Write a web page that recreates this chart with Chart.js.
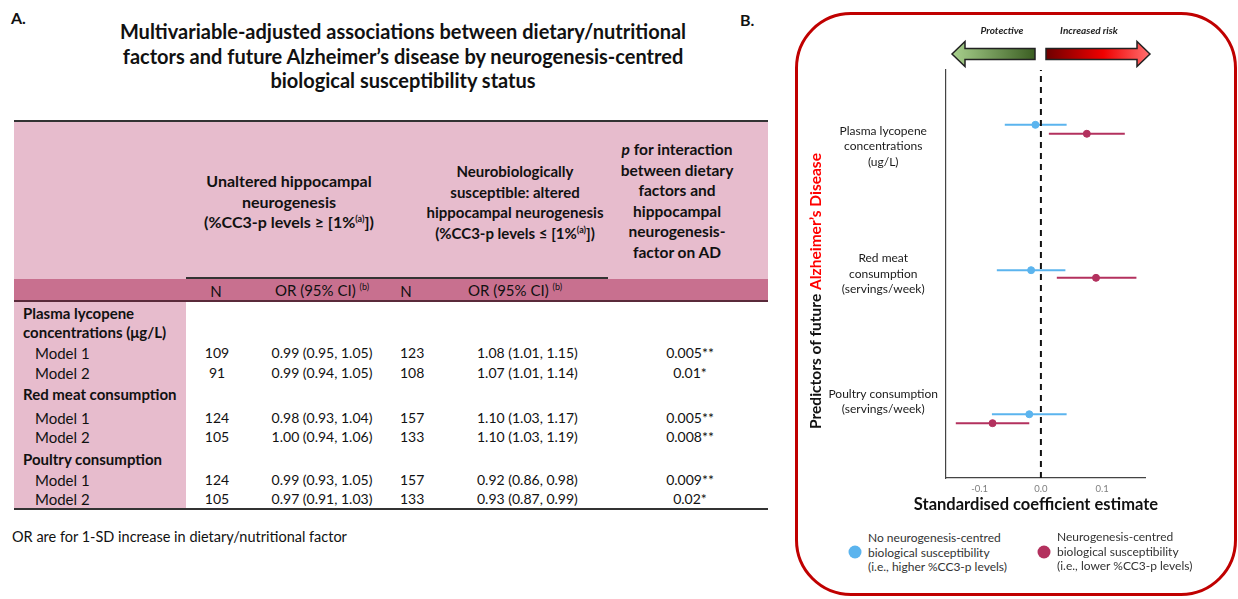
<!DOCTYPE html>
<html>
<head>
<meta charset="utf-8">
<script src="https://cdn.jsdelivr.net/npm/chart.js@4.4.1/dist/chart.umd.min.js"></script>
<style>
  html, body { margin: 0; padding: 0; background: #fff; }
  body { width: 1238px; height: 599px; position: relative; overflow: hidden; font-family: Lato, "Open Sans", sans-serif; color: #111; }
  .t { position: absolute; white-space: nowrap; line-height: 1; transform: translateY(-50%); }
  .c { transform: translate(-50%, -50%); text-align: center; }
  .b { font-weight: 700; }
  .box { position: absolute; }
  #panelB { position: absolute; left: 795px; top: 12px; width: 436px; height: 578px; border: 3px solid #c00000; border-radius: 56px; }
  #chartWrap { position: absolute; left: 800px; top: 20px; width: 432px; height: 510px; }
  .dot { position: absolute; width: 13px; height: 13px; border-radius: 50%; transform: translate(-50%, -50%); }
</style>
</head>
<body>
<div id="panelB"></div>
<div id="chartWrap"><canvas id="forest"></canvas></div>
<script>
// ---- panel B data ----
const yTickLabels = {
    1: ['Poultry consumption', '(servings/week)'],
    2: ['Red meat', 'consumption', '(servings/week)'],
    3: ['Plasma lycopene', 'concentrations', '(ug/L)']
};
const xTicks = [-0.1, 0, 0.1];
const noSuscY   = [0.90, 2.03, 3.17];
const noSuscEst = [-0.019, -0.016, -0.009];
const noSuscLo  = [-0.080, -0.072, -0.059];
const noSuscHi  = [0.042, 0.040, 0.042];
const suscY     = [0.83, 1.97, 3.10];
const suscEst   = [-0.079, 0.090, 0.075];
const suscLo    = [-0.139, 0.026, 0.013];
const suscHi    = [-0.019, 0.156, 0.137];

// ---- panel A data (table) ----
const factorLabels = [['Plasma lycopene', 'concentrations (\u03bcg/L)'], ['Red meat consumption'], ['Poultry consumption']];
const modelLabels = ['Model 1', 'Model 2', 'Model 1', 'Model 2', 'Model 1', 'Model 2'];
const nUnaltered = [109, 91, 124, 105, 124, 105];
const orUnaltered = ['0.99 (0.95, 1.05)', '0.99 (0.94, 1.05)', '0.98 (0.93, 1.04)', '1.00 (0.94, 1.06)', '0.99 (0.93, 1.05)', '0.97 (0.91, 1.03)'];
const nAltered = [123, 108, 157, 133, 157, 133];
const orAltered = ['1.08 (1.01, 1.15)', '1.07 (1.01, 1.14)', '1.10 (1.03, 1.17)', '1.10 (1.03, 1.19)', '0.92 (0.86, 0.98)', '0.93 (0.87, 0.99)'];
const pInteraction = ['0.005**', '0.01*', '0.005**', '0.008**', '0.009**', '0.02*'];

const BLUE = '#5bb4ee';
const RED = '#b3315e';

function box(x, y, w, h, bg) {
    const d = document.createElement('div');
    d.className = 'box';
    d.style.cssText = `left:${x}px;top:${y}px;width:${w}px;height:${h}px;background:${bg}`;
    document.body.appendChild(d);
}
function put(html, x, y, cls, style) {
    const d = document.createElement('div');
    d.className = 't ' + (cls || '');
    d.style.left = x + 'px';
    d.style.top = y + 'px';
    if (style) d.style.cssText += style;
    d.innerHTML = html;
    document.body.appendChild(d);
    return d;
}

// panel labels + title
put('A.', 11, 18, 'b', 'font-size:16px');
put('B.', 740, 20, 'b', 'font-size:16px');
const titleLines = ['Multivariable-adjusted associations between dietary/nutritional', 'factors and future Alzheimer\u2019s disease by neurogenesis-centred', 'biological susceptibility status'];
titleLines.forEach((l, i) => put(l, 403, 31 + i * 24.5, 'c b', 'font-size:20px'));

// table backgrounds and rules
box(14, 122, 754, 157, '#e7bccd');
box(14, 279, 754, 22, '#c8708f');
box(14, 302, 172, 207, '#e7bccd');
box(14, 120, 754, 2, '#333');
box(186, 277, 422, 1.5, '#333');
box(14, 300, 754, 2, '#5a2a3a');
box(14, 508, 754, 2, '#333');

// header text
const hSize = 'font-size:15.5px';
['Unaltered hippocampal', 'neurogenesis', '(%CC3-p levels \u2265 [1%<sup style="font-size:9px">(a)</sup>])']
    .forEach((l, i) => put(l, 289, 181 + i * 20.5, 'c b', 'font-size:16px'));
['Neurobiologically', 'susceptible: altered', 'hippocampal neurogenesis', '(%CC3-p levels \u2264 [1%<sup style="font-size:9px">(a)</sup>])']
    .forEach((l, i) => put(l, 515, 171 + i * 20.5, 'c b', 'font-size:15px'));
['<i>p</i> for interaction', 'between dietary', 'factors and', 'hippocampal', 'neurogenesis-', 'factor on AD']
    .forEach((l, i) => put(l, 677, 150 + i * 20.6, 'c b', hSize));
const subSize = 'font-size:15px';
put('N', 216, 291, 'c', subSize);
put('OR (95% CI) <sup style="font-size:9px">(b)</sup>', 322, 290, 'c', subSize);
put('N', 406, 291, 'c', subSize);
put('OR (95% CI) <sup style="font-size:9px">(b)</sup>', 515, 290, 'c', subSize);

// body rows
const factorY = [[313, 332], [394], [459]];
const modelY = [353, 373, 418, 437, 480, 499];
factorLabels.forEach((lines, f) => lines.forEach((l, i) => put(l, 23, factorY[f][i], 'b', 'font-size:15px')));
modelLabels.forEach((m, r) => {
    const y = modelY[r];
    put(m, 35, y, '', 'font-size:15px');
    put(String(nUnaltered[r]), 217, y, 'c', 'font-size:14px');
    put(orUnaltered[r], 322, y, 'c', 'font-size:14px');
    put(String(nAltered[r]), 400, y, '', 'font-size:14px');
    put(orAltered[r], 477, y, '', 'font-size:14px');
    put(pInteraction[r], 690, y, 'c', 'font-size:14px');
});
put('OR are for 1-SD increase in dietary/nutritional factor', 12, 537, '', 'font-size:14.5px');

// legend of panel B
const legendBlue = ['No neurogenesis-centred', 'biological susceptibility', '(i.e., higher %CC3-p levels)'];
const legendRed = ['Neurogenesis-centred', 'biological susceptibility', '(i.e., lower %CC3-p levels)'];
const dB = document.createElement('div'); dB.className = 'dot'; dB.style.cssText += `left:855px;top:552px;background:${BLUE}`; document.body.appendChild(dB);
const dR = document.createElement('div'); dR.className = 'dot'; dR.style.cssText += `left:1044px;top:552px;background:${RED}`; document.body.appendChild(dR);
legendBlue.forEach((l, i) => put(l, 868, 538 + i * 14.5, '', 'font-size:12px;color:#333'));
legendRed.forEach((l, i) => put(l, 1057, 537 + i * 14.5, '', 'font-size:12px;color:#333'));

// ---- forest plot ----
const datasets = [];
datasets.push({
    type: 'line', data: [{ x: 0, y: 0.4 }, { x: 0, y: 3.6 }],
    borderColor: '#111', borderWidth: 2, borderDash: [6, 5], pointRadius: 0, order: 0
});
datasets.push({
    type: 'scatter', data: noSuscEst.map((v, i) => ({ x: v, y: noSuscY[i] })),
    backgroundColor: BLUE, borderColor: BLUE, pointRadius: 3.5, order: 1
});
datasets.push({
    type: 'scatter', data: suscEst.map((v, i) => ({ x: v, y: suscY[i] })),
    backgroundColor: RED, borderColor: RED, pointRadius: 3.5, order: 1
});
noSuscY.forEach((y, i) => datasets.push({
    type: 'line', data: [{ x: noSuscLo[i], y }, { x: noSuscHi[i], y }],
    borderColor: BLUE, borderWidth: 2, pointRadius: 0, order: 2
}));
suscY.forEach((y, i) => datasets.push({
    type: 'line', data: [{ x: suscLo[i], y }, { x: suscHi[i], y }],
    borderColor: RED, borderWidth: 2, pointRadius: 0, order: 2
}));

function drawArrow(ctx, tipX, baseX, endX, yMid, grad) {
    ctx.beginPath();
    ctx.moveTo(tipX, yMid);
    ctx.lineTo(baseX, yMid - 12.5);
    ctx.lineTo(baseX, yMid - 5.5);
    ctx.lineTo(endX, yMid - 5.5);
    ctx.lineTo(endX, yMid + 5.5);
    ctx.lineTo(baseX, yMid + 5.5);
    ctx.lineTo(baseX, yMid + 12.5);
    ctx.closePath();
    ctx.fillStyle = grad;
    ctx.fill();
    ctx.lineWidth = 1.5;
    ctx.strokeStyle = '#222';
    ctx.stroke();
}

const decorPlugin = {
    id: 'decor',
    afterDraw(chart) {
        const ctx = chart.ctx;
        ctx.save();
        // y axis title in two colours
        ctx.translate(16, 271);
        ctx.rotate(-Math.PI / 2);
        ctx.font = 'bold 15.5px Lato';
        ctx.textBaseline = 'middle';
        const a = 'Predictors of future ', b = 'Alzheimer\u2019s Disease';
        const wa = ctx.measureText(a).width, wb = ctx.measureText(b).width;
        const x0 = -(wa + wb) / 2;
        ctx.fillStyle = '#111';
        ctx.textAlign = 'left';
        ctx.fillText(a, x0, 0);
        ctx.fillStyle = '#ff0000';
        ctx.fillText(b, x0 + wa, 0);
        ctx.restore();

        ctx.save();
        // x axis title
        ctx.font = 'bold 16.5px Lato';
        ctx.fillStyle = '#111';
        ctx.textAlign = 'center';
        ctx.textBaseline = 'middle';
        ctx.fillText('Standardised coefficient estimate', 236, 485);

        // direction arrows
        const yMid = 34;
        const g = ctx.createLinearGradient(152, 0, 235, 0);
        g.addColorStop(0, '#a9d18e');
        g.addColorStop(1, '#3b5e22');
        drawArrow(ctx, 152, 165, 235, yMid, g);
        const r = ctx.createLinearGradient(246, 0, 350, 0);
        r.addColorStop(0, '#6e0000');
        r.addColorStop(0.55, '#f00000');
        r.addColorStop(1, '#ff7070');
        drawArrow(ctx, 350, 337, 246, yMid, r);
        ctx.font = 'italic bold 10px Lato';
        ctx.fillStyle = '#222';
        ctx.fillText('Protective', 202, 11);
        ctx.fillText('Increased risk', 289, 11);
        ctx.restore();
    }
};

new Chart(document.getElementById('forest'), {
    data: { datasets },
    plugins: [decorPlugin],
    options: {
        responsive: true,
        maintainAspectRatio: false,
        animation: false,
        layout: { padding: { left: 0, top: 50, right: 87, bottom: 0 } },
        plugins: { legend: { display: false }, tooltip: { enabled: false } },
        scales: {
            x: {
                type: 'linear', min: -0.155, max: 0.17,
                afterBuildTicks: s => { s.ticks = xTicks.map(v => ({ value: v })); },
                afterFit: s => { s.height = 52; },
                grid: { display: false, drawTicks: true, tickLength: 3, tickColor: '#555' },
                border: { display: true, color: '#444', width: 1.2 },
                ticks: {
                    color: '#7f7f7f', font: { family: 'Lato', size: 9.5 }, padding: 2,
                    callback: v => v.toFixed(1)
                }
            },
            y: {
                type: 'linear', min: 0.4, max: 3.6,
                afterBuildTicks: s => { s.ticks = [1, 2, 3].map(v => ({ value: v })); },
                afterFit: s => { s.width = 146; },
                grid: { display: false, drawTicks: true, tickLength: 3, tickColor: '#555' },
                border: { display: true, color: '#444', width: 1.2 },
                ticks: {
                    color: '#1a1a1a', font: { family: 'Lato', size: 12, lineHeight: 1.3 }, padding: 5,
                    crossAlign: 'center',
                    callback: v => yTickLabels[v] || ''
                }
            }
        }
    }
});
</script>
</body>
</html>
